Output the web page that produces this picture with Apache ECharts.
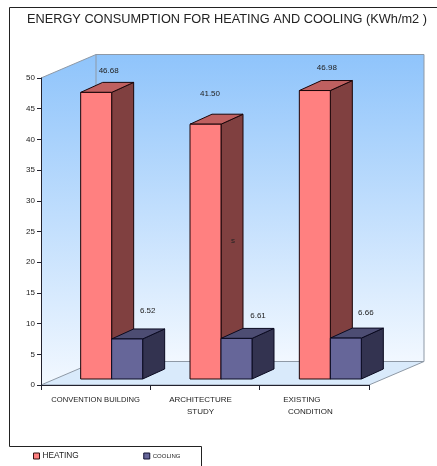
<!DOCTYPE html>
<html><head><meta charset="utf-8">
<style>html,body{margin:0;padding:0;background:#fff}#c{width:437px;height:466px}</style>
<script src="https://cdn.jsdelivr.net/npm/echarts@6/dist/echarts.min.js"></script>
</head><body><div id="c"></div>
<script>
const categories = ['CONVENTION BUILDING', 'ARCHITECTURE STUDY', 'EXISTING CONDITION'];
const heating = [46.68, 41.50, 46.98];
const cooling = [6.52, 6.61, 6.66];
const heatingLabels = ['46.68', '41.50', '46.98'];
const coolingLabels = ['6.52', '6.61', '6.66'];
const titleText = 'ENERGY CONSUMPTION FOR HEATING AND COOLING (KWh/m2 )';

const font = '"Liberation Sans", Arial, sans-serif';
const WALL_DX = 55, WALL_DY = 23.5, BAR_SHIFT = 16, BASE_LIFT = 6, BAR_W = 31, BAR_DX = 22, BAR_DY = 10;
const heatStyle = {front:'#FF8080', top:'#BF6060', side:'#804040', line:'#1a0508'};
const coolStyle = {front:'#666699', top:'#4D4D73', side:'#333350', line:'#0a0a20'};
const heatLabelShift = [[28,-22],[20,-30],[27.5,-23]];
const coolLabelShift = [[36,-28],[37,-23],[35.5,-25]];

function poly(points, fill, stroke, lw){
  return {type:'polygon', shape:{points}, style:{fill, stroke: stroke||null, lineWidth: lw===undefined?1:lw}};
}
function barItem(values, side, look, labels, shifts){
  return function(params, api){
    const i = api.value(0), v = api.value(1);
    const top = api.coord([i, v]), bottom = api.coord([i, 0]);
    const cx = top[0] + BAR_SHIFT;
    const x0 = side === 0 ? cx - BAR_W : cx, x1 = x0 + BAR_W;
    const y0 = top[1] - BASE_LIFT, y1 = bottom[1] - BASE_LIFT;
    const d = BAR_DX, h = BAR_DY;
    return {type:'group', children:[
      poly([[x1,y0],[x1+d,y0-h],[x1+d,y1-h],[x1,y1]], look.side, look.line),
      poly([[x0,y0],[x0+d,y0-h],[x1+d,y0-h],[x1,y0]], look.top, look.line),
      poly([[x0,y0],[x1,y0],[x1,y1],[x0,y1]], look.front, look.line),
      {type:'text', style:{text:labels[i], x:x0+shifts[i][0], y:y0+shifts[i][1], fill:'#222',
        font:'8px '+font, textAlign:'center', textVerticalAlign:'middle'}}
    ]};
  };
}
function wallItem(params){
  const c = params.coordSys, L=c.x, R=c.x+c.width, T=c.y, B=c.y+c.height;
  const dx=WALL_DX, dy=WALL_DY;
  const grad = {type:'linear',x:0,y:0,x2:0,y2:1,colorStops:[{offset:0,color:'#8FC4FB'},{offset:1,color:'#F2F8FF'}]};
  const edge='#8e99a6';
  return {type:'group', children:[
    poly([[L,T],[L+dx,T-dy],[L+dx,B-dy],[L,B]], grad, null, 0),
    poly([[L+dx,T-dy],[R+dx,T-dy],[R+dx,B-dy],[L+dx,B-dy]], grad, edge),
    poly([[L,B],[R,B],[R+dx,B-dy],[L+dx,B-dy]], '#D9EAFB', edge),
    {type:'polyline', shape:{points:[[L,T],[L+dx,T-dy]]}, style:{stroke:edge, lineWidth:1, fill:null}}
  ]};
}

const chart = echarts.init(document.getElementById('c'), null, {renderer:'canvas'});
chart.setOption({
  animation:false,
  backgroundColor:'#fff',
  title:{text:titleText, left:27, top:13, padding:0, textStyle:{fontFamily:font, fontSize:12.75, fontWeight:'normal', color:'#222'}},
  grid:{left:41, top:78, width:328, height:307},
  legend:{left:33, top:452, padding:0, itemWidth:6, itemHeight:6, itemGap:64.5, icon:'rect', selectedMode:false,
    data:[
      {name:'HEATING', itemStyle:{color:'#FF8080',borderColor:'#331111',borderWidth:1}, textStyle:{fontFamily:font,fontSize:8.3,color:'#222',padding:[0,0,0,-2]}},
      {name:'COOLING', itemStyle:{color:'#666699',borderColor:'#111133',borderWidth:1}, textStyle:{fontFamily:font,fontSize:6,color:'#222',padding:[0,0,0,-2]}}
    ]},
  xAxis:{type:'category', data:categories, boundaryGap:true, z:5,
    axisLine:{lineStyle:{color:'#22222e',width:1}},
    axisTick:{show:true,length:5,alignWithLabel:false,lineStyle:{color:'#22222e'}},
    axisLabel:{margin:9, interval:0, color:'#222', fontFamily:font, fontSize:8, lineHeight:12,
      formatter:function(v){
        if(v===categories[1]) return '{a|ARCHITECTURE}\n{a|STUDY}';
        if(v===categories[2]) return '{b|EXISTING}\n{c|CONDITION}';
        return '{d|'+v+'}';
      },
      rich:{
        a:{fontFamily:font,fontSize:8,color:'#222',lineHeight:12,padding:[0,9,0,0]},
        b:{fontFamily:font,fontSize:8,color:'#222',lineHeight:12,padding:[0,25,0,0]},
        c:{fontFamily:font,fontSize:8,color:'#222',lineHeight:12,padding:[0,8,0,0]},
        d:{fontFamily:font,fontSize:7.6,color:'#222',lineHeight:12}
      }}},
  yAxis:{type:'value', min:0, max:50, interval:5, z:5,
    axisLine:{show:true,lineStyle:{color:'#22222e',width:1}},
    axisTick:{show:true,length:4,lineStyle:{color:'#22222e'}},
    splitLine:{show:false},
    axisLabel:{margin:6,color:'#222',fontFamily:font,fontSize:8}},
  graphic:[
    {type:'polyline', silent:true, z:10, shape:{points:[[437,7.5],[9.5,7.5],[9.5,446.5],[201.5,446.5],[201.5,466]]}, style:{fill:null,stroke:'#222',lineWidth:1}},
    {type:'text', silent:true, z:10, style:{text:'s', x:233, y:241, fill:'#222', font:'8px '+font, textAlign:'center', textVerticalAlign:'middle'}}
  ],
  series:[
    {type:'custom', silent:true, z:1, renderItem:wallItem, data:[[0,0]], encode:{x:0,y:1}},
    {type:'custom', name:'HEATING', z:2, itemStyle:{color:'#FF8080'}, encode:{x:0,y:1},
      data:heating.map((v,i)=>[i,v]), renderItem:barItem(heating,0,heatStyle,heatingLabels,heatLabelShift)},
    {type:'custom', name:'COOLING', z:3, itemStyle:{color:'#666699'}, encode:{x:0,y:1},
      data:cooling.map((v,i)=>[i,v]), renderItem:barItem(cooling,1,coolStyle,coolingLabels,coolLabelShift)}
  ]
});
</script></body></html>
